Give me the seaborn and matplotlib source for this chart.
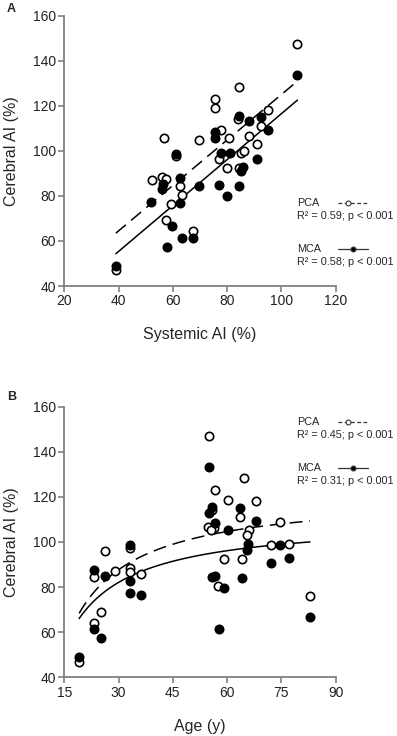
import numpy as np
import pandas as pd
import seaborn as sns
import matplotlib
matplotlib.use("Agg")
import matplotlib.pyplot as plt

# panel A: systemic AI vs cerebral AI
a_pca_x = [39, 52.2, 56, 57.4, 57.6, 59.3, 56.7, 61.2, 62.8, 63.4, 67.3, 69.7, 75.5, 75.5,
           76.9, 77.9, 80, 80.8, 84.2, 84.1, 84.2, 85.1, 86.3, 87.9, 90.9, 92.6, 95.2, 105.9]
a_pca_y = [47, 87, 88.5, 87.7, 69.3, 76.5, 105.7, 97.5, 84.6, 80.5, 64.4, 105, 122.9, 118.8,
           96.2, 109.2, 92.4, 105.5, 128.5, 114.1, 92.4, 99.2, 99.8, 106.8, 103.2, 111.1, 118.2, 147.3]
a_mca_x = [39, 52, 56, 56.5, 57.7, 59.5, 61.2, 62.7, 62.6, 63.4, 67.3, 69.7, 75.7, 75.7,
           76.9, 77.6, 80, 80.9, 84.2, 84.2, 85.1, 85.7, 88, 90.9, 92.5, 95.2, 105.9]
a_mca_y = [49, 77.5, 82.9, 85.3, 57.4, 66.8, 98.7, 87.8, 76.7, 61.4, 61.4, 84.5, 108.3, 105.5,
           85, 99.1, 79.8, 99.1, 115.6, 84.4, 91, 93, 113.2, 96.6, 115, 109.2, 133.8]

# panel B: age vs cerebral AI
b_pca_x = [19.1, 23.1, 23.1, 25.1, 26.2, 29.1, 33.1, 33.1, 33.2, 36.1, 55, 56.6, 60.1, 64.7, 68,
           55.7, 63.6, 74.5, 54.8, 56.4, 55.5, 66, 65.5, 72.2, 77, 59.2, 64.1, 57.6, 82.9]
b_pca_y = [46.9, 84.6, 64.2, 68.9, 96, 87.3, 88.3, 86.6, 97.5, 85.7, 147.1, 123, 118.8, 128.5, 118.2,
           114.3, 111, 109, 106.8, 106.1, 105.3, 105.4, 103, 98.8, 99.3, 92.3, 92.3, 80.6, 76.2]
b_mca_x = [19.1, 23.1, 23.1, 25.1, 26.2, 33.2, 33.1, 33.1, 36.1, 55, 55.7, 55, 63.6, 68,
           56.6, 60.1, 65.7, 74.6, 65.4, 72.2, 77.1, 55.7, 56.6, 59.2, 64.1, 57.7, 82.9]
b_mca_y = [49.1, 87.4, 61.3, 57.4, 84.9, 98.7, 82.8, 77.4, 76.5, 133.4, 115.5, 113, 115, 109.2,
           108.5, 105.4, 99.1, 98.8, 96.3, 90.9, 93, 84.4, 85.1, 79.7, 84.2, 61.3, 66.6]

# hyperbolic fits in panel B, y = a - b/x
b_fit_pca = [121.6, 1017]
b_fit_mca = [110.2, 843.5]

a_stats = ["R\u00b2 = 0.59; p < 0.001", "R\u00b2 = 0.58; p < 0.001"]
b_stats = ["R\u00b2 = 0.45; p < 0.001", "R\u00b2 = 0.31; p < 0.001"]

sns.set_style("ticks")
plt.rcParams['font.family'] = ['Liberation Sans', 'DejaVu Sans']
GRAY = "#808080"
DASH = (0, (8.5, 4.5))

fig = plt.figure(figsize=(3.97, 7.36), dpi=100)
axA = fig.add_axes([0.162, 0.6114, 0.6836, 0.3673])
axB = fig.add_axes([0.162, 0.0798, 0.6836, 0.3676])


def points(ax, x, y, filled):
    d = pd.DataFrame({"x": x, "y": y})
    sns.scatterplot(data=d, x="x", y="y", ax=ax, s=36, linewidth=1.2,
                    edgecolor="black", facecolor="black" if filled else "white", zorder=3)


def hyper_curve(ax, x, fit, ls):
    xx = np.linspace(min(x), max(x), 100)
    sns.lineplot(x=xx, y=fit[0] - fit[1] / xx, ax=ax, color="black", lw=1.1, linestyle=ls, zorder=2)


def legend(ax, ytop, stats):
    for i, (name, st, filled, ls) in enumerate([("PCA", stats[0], False, (0, (3, 2))),
                                                 ("MCA", stats[1], True, "-")]):
        y0 = ytop - i * 0.17
        ax.text(0.857, y0, name, transform=ax.transAxes, fontsize=7.8, va="center", ha="left")
        ax.text(0.857, y0 - 0.048, st, transform=ax.transAxes, fontsize=7.8, va="center", ha="left")
        ax.plot([1.008, 1.119], [y0, y0], transform=ax.transAxes, color="#333333", lw=0.9,
                linestyle=ls, clip_on=False)
        ax.plot([1.045 if not filled else 1.065], [y0], transform=ax.transAxes, marker="o",
                ms=3.5, mfc="black" if filled else "white", mec="#333333", mew=0.8, clip_on=False)


# panel A
sns.regplot(x=np.array(a_pca_x), y=np.array(a_pca_y), ax=axA, scatter=False, ci=None, truncate=True,
            line_kws=dict(color="black", lw=1.1, linestyle=DASH))
sns.regplot(x=np.array(a_mca_x), y=np.array(a_mca_y), ax=axA, scatter=False, ci=None, truncate=True,
            line_kws=dict(color="black", lw=1.1))
points(axA, a_pca_x, a_pca_y, False)
points(axA, a_mca_x, a_mca_y, True)
axA.set_xlim(20, 120)
axA.set_xticks(range(20, 121, 20))
axA.set_xlabel("Systemic AI (%)", fontsize=11.5)
axA.xaxis.set_label_coords(0.5, -0.152)
legend(axA, 0.306, a_stats)

# panel B
hyper_curve(axB, b_pca_x, b_fit_pca, DASH)
hyper_curve(axB, b_mca_x, b_fit_mca, "-")
points(axB, b_pca_x, b_pca_y, False)
points(axB, b_mca_x, b_mca_y, True)
axB.set_xlim(15, 90)
axB.set_xticks(range(15, 91, 15))
axB.set_xlabel("Age (y)", fontsize=11.5)
axB.xaxis.set_label_coords(0.5, -0.155)
legend(axB, 0.945, b_stats)

for ax in (axA, axB):
    ax.set_ylim(40, 160)
    ax.set_yticks(range(40, 161, 20))
    ax.set_ylabel("Cerebral AI (%)", fontsize=11.5)
    ax.yaxis.set_label_coords(-0.168, 0.5)
    sns.despine(ax=ax)
    for s in ("left", "bottom"):
        ax.spines[s].set_color(GRAY)
        ax.spines[s].set_linewidth(1.3)
    ax.tick_params(colors=GRAY, labelcolor="#222222", labelsize=10, length=4, width=1.2, pad=2)

fig.text(0.018, 0.988, "A", fontsize=9, fontweight="bold", va="center")
fig.text(0.018, 0.4606, "B", fontsize=9, fontweight="bold", va="center")

fig.savefig("out.png", dpi=100)
